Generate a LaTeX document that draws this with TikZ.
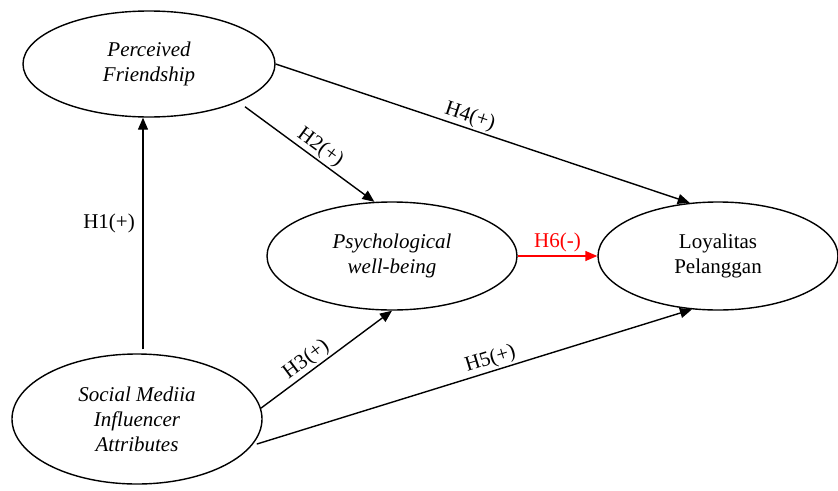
\documentclass[tikz,border=0pt]{standalone}
\usepackage{fontspec}
\setmainfont{Liberation Serif}
\usetikzlibrary{shapes.geometric,arrows.meta,calc}
\definecolor{hred}{RGB}{255,0,0}
\begin{document}
\begin{tikzpicture}[x=1pt,y=-1pt,
  latent/.style={ellipse,draw,line width=1.4pt,inner sep=0pt,align=center,
    font=\fontsize{21}{25}\selectfont\itshape},
  hpath/.style={line width=1.4pt,-{Triangle[length=12pt,width=10pt]}},
  lbl/.style={font=\fontsize{21}{25}\selectfont,inner sep=1.5pt}]
\useasboundingbox (0,0) rectangle (838,490);
\node[latent,minimum width=252pt,minimum height=106pt] (pf) at (149,64) {Perceived\\Friendship};
\node[latent,minimum width=250pt,minimum height=108pt] (pwb) at (392,256) {Psychological\\well-being};
\node[latent,minimum width=240pt,minimum height=108pt,font=\fontsize{21}{25}\selectfont\upshape] (lp) at (718,256) {Loyalitas\\Pelanggan};
\node[latent,minimum width=250pt,minimum height=130pt] (sma) at (137,419) {Social Mediia\\Influencer\\Attributes};
% H1
\draw[hpath,shorten <=4pt] ($(sma.north)+(6,0)$) -- node[lbl,left,pos=0.55,xshift=-6pt]{H1(+)} ($(pf.south)+(-6,0)$);
% H2
\draw[hpath,shorten <=8pt] (pf.-23) -- node[lbl,sloped,above,pos=0.55]{H2(+)} (pwb.108);
% H4
\draw[hpath] (pf.east) -- node[lbl,sloped,above,pos=0.46]{H4(+)} (lp.118);
% H6
\draw[hpath,hred] (pwb.east) -- node[lbl,above,text=hred,yshift=2pt]{H6(-)} (lp.west);
% H3
\draw[hpath] (sma.5) -- node[lbl,sloped,above,pos=0.4]{H3(+)} (pwb.south);
% H5
\draw[hpath,shorten <=5pt] (sma.-13) -- node[lbl,sloped,above,pos=0.55]{H5(+)} (lp.-116);
\end{tikzpicture}
\end{document}
